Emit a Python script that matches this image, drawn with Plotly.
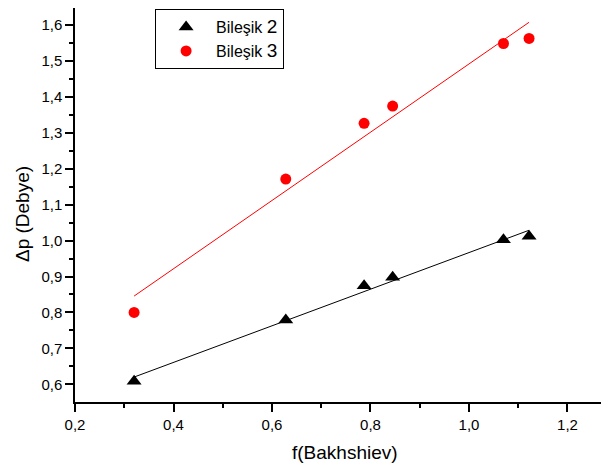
import numpy as np
import plotly.graph_objects as go

x_vals = [0.320, 0.628, 0.787, 0.845, 1.070, 1.122]
y_b2 = [0.609, 0.779, 0.874, 0.898, 1.002, 1.012]
y_b3 = [0.800, 1.171, 1.326, 1.374, 1.548, 1.562]

x_ticks = [0.2, 0.4, 0.6, 0.8, 1.0, 1.2]
y_ticks = [0.6, 0.7, 0.8, 0.9, 1.0, 1.1, 1.2, 1.3, 1.4, 1.5, 1.6]

xa = np.array(x_vals)
fit_x = [float(xa.min()), float(xa.max())]
p2 = np.polyfit(xa, y_b2, 1)
p3 = np.polyfit(xa, y_b3, 1)

fig = go.Figure()
fig.add_trace(go.Scatter(x=fit_x, y=list(np.polyval(p2, fit_x)), mode="lines",
                         line=dict(color="black", width=1), showlegend=False, hoverinfo="skip"))
fig.add_trace(go.Scatter(x=fit_x, y=list(np.polyval(p3, fit_x)), mode="lines",
                         line=dict(color="red", width=1), showlegend=False, hoverinfo="skip"))
fig.add_trace(go.Scatter(x=x_vals, y=y_b2, mode="markers",
                         name="Bileşik <span style='font-size:19px'>2</span>",
                         marker=dict(symbol="triangle-up", size=13, color="black")))
fig.add_trace(go.Scatter(x=x_vals, y=y_b3, mode="markers",
                         name="Bileşik <span style='font-size:19px'>3</span>",
                         marker=dict(symbol="circle", size=11, color="red")))

font = "Liberation Sans, Arial, sans-serif"
fig.update_layout(
    width=609, height=467,
    margin=dict(l=67, r=8, t=0, b=73, autoexpand=False),
    paper_bgcolor="white", plot_bgcolor="white",
    separators=",.",
    font=dict(family=font, size=15, color="black"),
    legend=dict(x=0.15, y=0.997, xanchor="left", yanchor="top",
                bordercolor="black", borderwidth=1, bgcolor="white",
                font=dict(size=16), itemwidth=50, tracegroupgap=0),
    xaxis=dict(range=[0.2, 1.2843], tickvals=x_ticks, tickformat=".1f",
               showgrid=False, zeroline=False, showline=True, linecolor="black", linewidth=1.5,
               ticks="outside", ticklen=8, tickwidth=1.5, tickcolor="black",
               minor=dict(dtick=0.1, tick0=0.2, ticks="outside", ticklen=4, tickwidth=1.5, tickcolor="black")),
    yaxis=dict(range=[0.551, 1.6467], tickvals=y_ticks, tickformat=".1f",
               showgrid=False, zeroline=False, showline=True, linecolor="black", linewidth=1.5,
               ticks="outside", ticklen=8, tickwidth=1.5, tickcolor="black",
               minor=dict(dtick=0.05, tick0=0.55, ticks="outside", ticklen=4, tickwidth=1.5, tickcolor="black")),
    annotations=[
        dict(text="f(Bakhshiev)", xref="paper", yref="paper", x=0.5056, y=-0.127,
             xanchor="center", yanchor="middle", showarrow=False, font=dict(size=19)),
        dict(text="Δp (Debye)", xref="paper", yref="paper", x=-0.0993, y=0.477,
             xanchor="center", yanchor="middle", showarrow=False, textangle=-90, font=dict(size=19)),
    ],
)
fig.write_html("out.html")
